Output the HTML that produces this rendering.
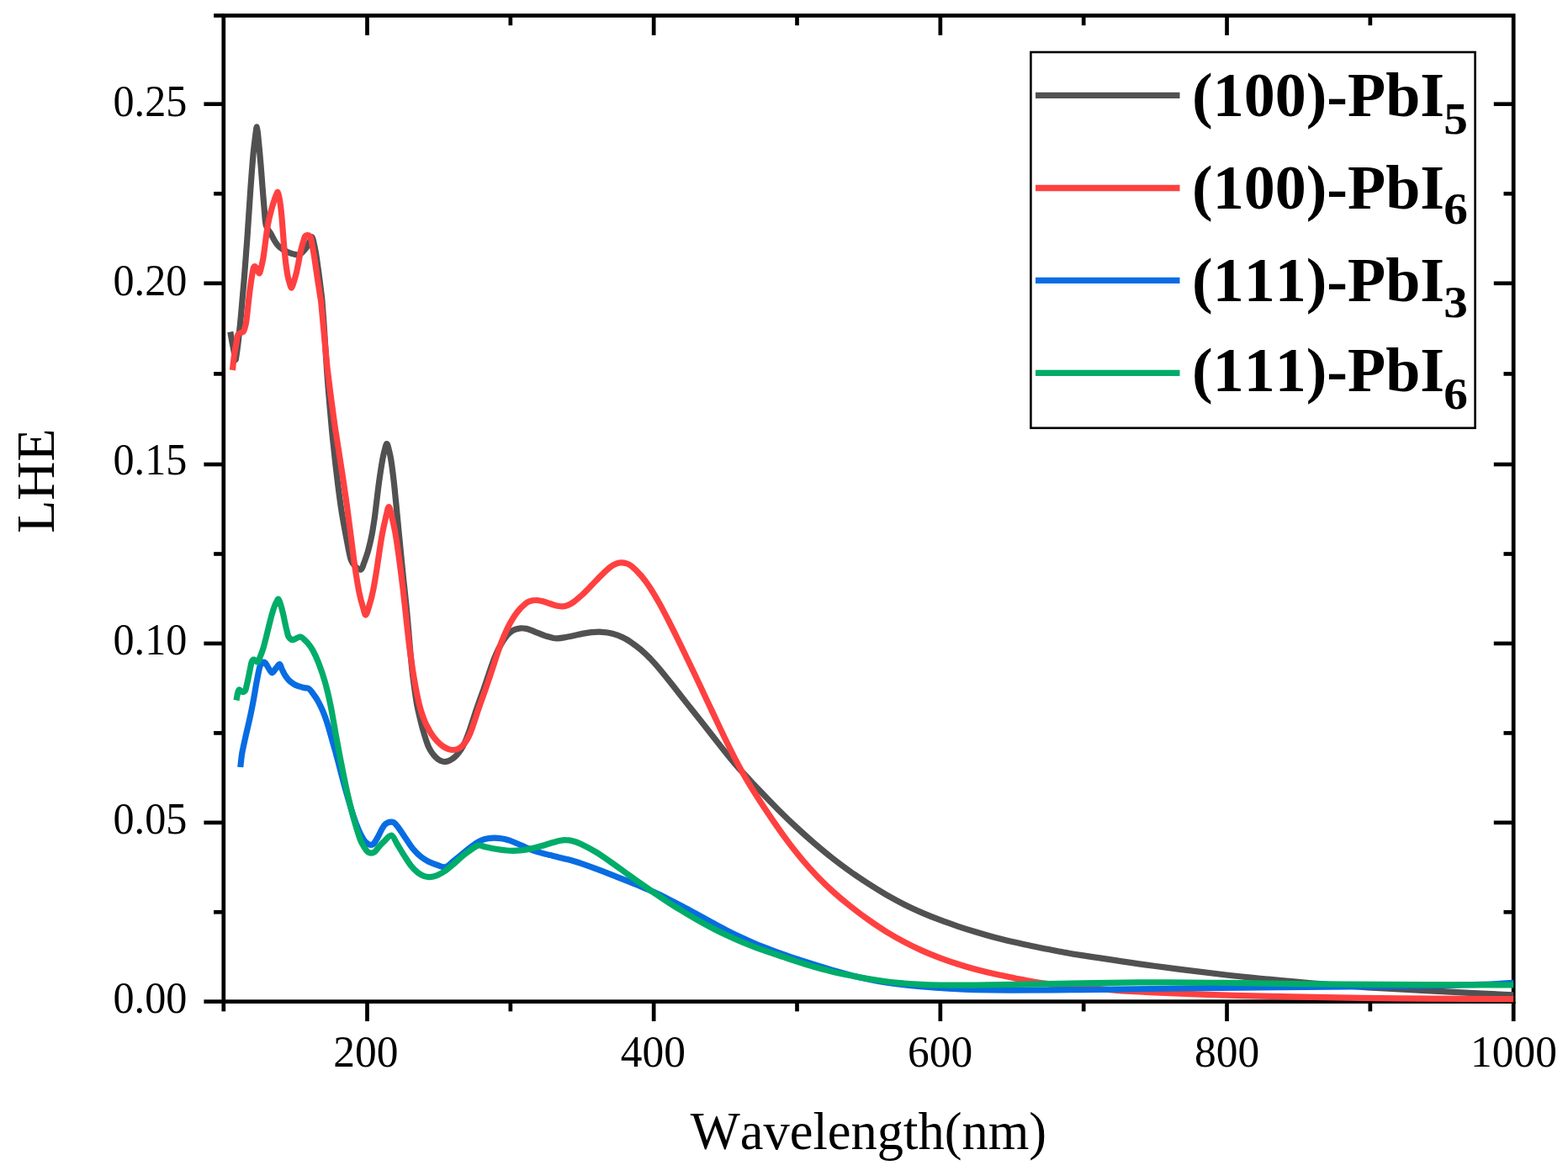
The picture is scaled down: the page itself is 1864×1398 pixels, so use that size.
<!DOCTYPE html>
<html lang="en"><head><meta charset="utf-8"><title>LHE vs Wavelength</title>
<style>html,body{margin:0;padding:0;background:#fff;}body{width:1864px;height:1398px;overflow:hidden;}svg{display:block;}text{font-family:"Liberation Serif","Times New Roman",serif;fill:#000;font-kerning:none;}.tk{font-size:52px;}.ttl{font-size:63px;}.lg{font-size:74px;font-weight:bold;}.sub{font-size:54px;font-weight:bold;}.ax{stroke:#000;stroke-width:4.7;fill:none;stroke-linecap:butt;}.cv{fill:none;stroke-width:7.2;stroke-linejoin:round;stroke-linecap:butt;}</style></head><body>
<svg width="1864" height="1398" viewBox="0 0 1864 1398">
<rect x="0" y="0" width="1864" height="1398" fill="#fff"/>
<defs><clipPath id="pc"><rect x="265.80" y="18.50" width="1533.40" height="1174.50"/></clipPath></defs>
<g class="ax">
<rect x="265.80" y="18.50" width="1533.40" height="1172.15"/>
<line x1="436.50" y1="1190.65" x2="436.50" y2="1214.05"/>
<line x1="436.50" y1="18.50" x2="436.50" y2="41.90"/>
<line x1="777.17" y1="1190.65" x2="777.17" y2="1214.05"/>
<line x1="777.17" y1="18.50" x2="777.17" y2="41.90"/>
<line x1="1117.85" y1="1190.65" x2="1117.85" y2="1214.05"/>
<line x1="1117.85" y1="18.50" x2="1117.85" y2="41.90"/>
<line x1="1458.53" y1="1190.65" x2="1458.53" y2="1214.05"/>
<line x1="1458.53" y1="18.50" x2="1458.53" y2="41.90"/>
<line x1="1799.20" y1="1190.65" x2="1799.20" y2="1214.05"/>
<line x1="265.80" y1="1190.65" x2="265.80" y2="1202.35"/>
<line x1="606.84" y1="1190.65" x2="606.84" y2="1202.35"/>
<line x1="606.84" y1="18.50" x2="606.84" y2="30.20"/>
<line x1="947.51" y1="1190.65" x2="947.51" y2="1202.35"/>
<line x1="947.51" y1="18.50" x2="947.51" y2="30.20"/>
<line x1="1288.19" y1="1190.65" x2="1288.19" y2="1202.35"/>
<line x1="1288.19" y1="18.50" x2="1288.19" y2="30.20"/>
<line x1="1628.86" y1="1190.65" x2="1628.86" y2="1202.35"/>
<line x1="1628.86" y1="18.50" x2="1628.86" y2="30.20"/>
<line x1="265.80" y1="1190.65" x2="242.40" y2="1190.65"/>
<line x1="265.80" y1="1084.28" x2="254.10" y2="1084.28"/>
<line x1="1799.20" y1="1084.28" x2="1787.50" y2="1084.28"/>
<line x1="265.80" y1="977.90" x2="242.40" y2="977.90"/>
<line x1="1799.20" y1="977.90" x2="1775.80" y2="977.90"/>
<line x1="265.80" y1="871.42" x2="254.10" y2="871.42"/>
<line x1="1799.20" y1="871.42" x2="1787.50" y2="871.42"/>
<line x1="265.80" y1="764.95" x2="242.40" y2="764.95"/>
<line x1="1799.20" y1="764.95" x2="1775.80" y2="764.95"/>
<line x1="265.80" y1="658.50" x2="254.10" y2="658.50"/>
<line x1="1799.20" y1="658.50" x2="1787.50" y2="658.50"/>
<line x1="265.80" y1="552.05" x2="242.40" y2="552.05"/>
<line x1="1799.20" y1="552.05" x2="1775.80" y2="552.05"/>
<line x1="265.80" y1="444.42" x2="254.10" y2="444.42"/>
<line x1="1799.20" y1="444.42" x2="1787.50" y2="444.42"/>
<line x1="265.80" y1="336.80" x2="242.40" y2="336.80"/>
<line x1="1799.20" y1="336.80" x2="1775.80" y2="336.80"/>
<line x1="265.80" y1="230.25" x2="254.10" y2="230.25"/>
<line x1="1799.20" y1="230.25" x2="1787.50" y2="230.25"/>
<line x1="265.80" y1="123.70" x2="242.40" y2="123.70"/>
<line x1="1799.20" y1="123.70" x2="1775.80" y2="123.70"/>
<line x1="265.80" y1="18.50" x2="254.10" y2="18.50"/>
</g>
<text class="tk" text-anchor="end" transform="translate(222.30,1204.40) scale(0.9650,0.9950)">0.00</text>
<text class="tk" text-anchor="end" transform="translate(222.30,991.00) scale(0.9650,0.9950)">0.05</text>
<text class="tk" text-anchor="end" transform="translate(222.30,777.60) scale(0.9650,0.9950)">0.10</text>
<text class="tk" text-anchor="end" transform="translate(222.30,564.20) scale(0.9650,0.9950)">0.15</text>
<text class="tk" text-anchor="end" transform="translate(222.30,351.10) scale(0.9650,0.9950)">0.20</text>
<text class="tk" text-anchor="end" transform="translate(222.30,138.00) scale(0.9650,0.9950)">0.25</text>
<text class="tk" text-anchor="middle" transform="translate(434.90,1267.60) scale(0.9900,0.9950)">200</text>
<text class="tk" text-anchor="middle" transform="translate(776.27,1267.60) scale(0.9900,0.9950)">400</text>
<text class="tk" text-anchor="middle" transform="translate(1117.65,1267.60) scale(0.9900,0.9950)">600</text>
<text class="tk" text-anchor="middle" transform="translate(1458.53,1267.60) scale(0.9900,0.9950)">800</text>
<text class="tk" text-anchor="middle" transform="translate(1799.40,1267.60) scale(0.9900,0.9950)">1000</text>
<text class="ttl" text-anchor="start" transform="translate(820.80,1365.50) scale(0.9920,1.0000)">Wavelength(nm)</text>
<text class="ttl" text-anchor="start" transform="translate(64.40,633.70) rotate(-90) scale(1.0136,0.9988)">LHE</text>
<g clip-path="url(#pc)">
<path class="cv" stroke="#515151" d="M273.8 394.5C274.2 396.7 275.4 403.6 276.2 408.0C277.1 412.4 278.1 417.7 278.7 421.0C279.3 424.2 279.7 427.0 280.0 427.5C280.3 428.0 280.3 426.8 280.8 423.9C281.3 421.0 282.0 416.4 282.8 409.9C283.6 403.5 284.6 394.0 285.5 385.0C286.4 376.0 287.4 364.4 288.1 356.0C288.9 347.6 289.4 341.2 290.0 334.4C290.5 327.6 291.0 321.7 291.5 315.1C292.0 308.5 292.6 301.0 293.0 295.0C293.5 289.0 293.6 287.2 294.2 279.0C294.7 270.8 295.7 256.3 296.4 245.9C297.1 235.6 297.6 227.1 298.4 216.9C299.1 206.7 300.1 193.8 300.9 184.7C301.8 175.6 302.8 167.9 303.5 162.3C304.3 156.7 304.8 150.5 305.4 151.0C306.0 151.5 306.5 158.0 307.2 165.5C308.0 173.0 309.2 186.6 310.0 196.0C310.8 205.4 311.3 213.2 312.0 222.0C312.7 230.8 313.5 241.3 314.2 248.9C315.0 256.6 315.0 263.1 316.3 268.0C317.6 272.9 320.5 275.3 322.2 278.3C323.9 281.3 325.0 283.7 326.3 285.9C327.7 288.1 328.7 289.9 330.3 291.6C331.8 293.3 333.5 294.7 335.5 296.0C337.4 297.4 340.2 298.7 342.0 299.6C343.7 300.5 344.8 300.8 346.1 301.3C347.4 301.7 348.3 302.0 349.9 302.3C351.4 302.6 353.9 303.4 355.5 303.0C357.1 302.6 358.2 301.1 359.5 299.9C360.8 298.7 362.1 297.2 363.4 295.6C364.6 293.9 365.7 291.7 366.7 289.9C367.7 288.1 368.7 286.0 369.4 284.7C370.1 283.3 370.5 281.6 371.0 281.8C371.5 282.0 371.7 282.9 372.4 285.7C373.0 288.6 374.3 294.0 375.2 299.1C376.1 304.1 376.9 310.1 377.7 316.0C378.6 321.9 379.4 328.4 380.2 334.4C380.9 340.4 381.8 347.4 382.4 352.0C382.9 356.6 382.8 355.0 383.3 362.0C383.9 369.0 384.9 383.3 385.6 394.0C386.3 404.8 387.0 417.3 387.7 426.6C388.3 435.9 388.7 442.9 389.3 450.0C389.8 457.0 390.0 460.0 390.8 469.0C391.6 478.1 393.1 495.9 393.9 504.4C394.7 512.9 394.6 512.6 395.4 520.0C396.2 527.5 397.3 538.2 398.5 548.9C399.8 559.7 401.4 574.2 402.8 584.4C404.1 594.6 404.9 600.5 406.4 609.9C408.0 619.3 410.2 631.7 412.0 640.9C413.8 650.1 415.3 659.6 417.1 665.1C418.9 670.6 421.0 672.0 423.0 674.0C425.0 676.0 427.6 677.6 429.2 676.9C430.8 676.2 431.2 673.3 432.6 669.6C433.9 665.9 436.0 660.5 437.6 654.7C439.2 649.0 440.9 641.5 442.2 635.0C443.4 628.5 444.3 622.2 445.3 615.7C446.2 609.3 446.8 603.8 447.7 596.4C448.6 589.0 449.6 580.0 450.8 571.5C452.0 563.1 453.6 552.5 454.8 545.9C456.0 539.4 457.1 535.4 458.0 532.3C458.8 529.2 459.2 527.5 459.8 527.5C460.4 527.5 460.9 529.3 461.7 532.3C462.5 535.4 463.7 539.4 464.7 545.9C465.8 552.5 467.1 563.0 468.1 571.5C469.1 580.0 469.9 589.6 470.7 597.0C471.4 604.4 471.8 608.4 472.5 615.8C473.2 623.2 474.1 632.9 475.0 641.5C475.8 650.1 476.7 659.2 477.5 667.3C478.3 675.4 479.2 683.9 479.8 690.0C480.4 696.1 480.7 697.7 481.3 704.0C482.0 710.4 483.0 720.0 483.8 728.0C484.5 736.0 485.2 744.5 485.9 752.0C486.5 759.5 487.0 765.7 487.6 772.9C488.3 780.0 489.2 789.6 489.7 795.0C490.3 800.3 490.1 799.1 490.9 805.0C491.7 811.0 493.4 824.2 494.5 830.6C495.5 837.1 495.6 838.0 496.9 843.7C498.2 849.4 500.3 858.4 502.0 864.9C503.8 871.4 506.0 878.4 507.5 882.7C508.9 887.0 509.7 888.3 510.9 890.6C512.2 893.0 513.6 895.1 515.0 896.9C516.5 898.7 517.9 900.3 519.4 901.5C520.9 902.8 522.4 903.8 523.9 904.4C525.3 905.1 526.6 905.4 528.0 905.5C529.5 905.5 531.0 905.3 532.7 904.8C534.4 904.2 536.2 903.2 538.0 901.9C539.8 900.7 541.7 899.0 543.4 897.1C545.2 895.2 546.8 892.9 548.3 890.6C549.8 888.2 551.0 886.0 552.4 883.0C553.8 880.0 555.2 876.4 556.6 872.6C558.1 868.7 559.4 864.4 560.9 859.9C562.4 855.5 564.0 850.4 565.5 845.9C567.0 841.4 568.5 837.3 570.0 833.0C571.5 828.6 573.0 824.5 574.7 819.9C576.3 815.2 578.1 810.0 579.8 805.0C581.5 800.0 583.2 794.5 584.9 790.0C586.5 785.4 587.8 781.9 589.7 777.7C591.5 773.6 594.2 768.4 596.2 764.9C598.2 761.4 600.0 759.0 601.6 756.8C603.3 754.6 604.5 753.3 606.2 751.9C607.8 750.6 609.4 749.4 611.5 748.6C613.6 747.7 616.6 747.0 619.0 746.8C621.4 746.6 623.6 747.0 625.8 747.4C627.9 747.8 629.6 748.5 632.0 749.4C634.3 750.3 636.9 751.5 639.9 752.6C642.8 753.8 646.6 755.3 649.6 756.3C652.7 757.2 655.7 758.0 657.9 758.5C660.2 758.9 661.1 758.9 663.2 758.8C665.4 758.7 667.6 758.4 670.7 757.9C673.7 757.4 677.9 756.5 681.5 755.7C685.1 755.0 688.6 754.1 692.2 753.4C695.8 752.8 699.1 752.1 703.0 751.7C706.9 751.3 711.5 751.0 715.7 751.3C720.0 751.5 724.0 752.1 728.2 753.3C732.4 754.4 736.9 756.2 740.8 758.1C744.7 759.9 747.9 761.9 751.4 764.4C755.0 766.8 758.7 769.7 762.3 772.8C765.9 775.9 769.4 779.3 773.0 782.9C776.5 786.6 779.5 789.8 783.6 794.7C787.7 799.6 793.4 806.7 797.8 812.3C802.2 817.8 805.9 822.6 810.1 827.9C814.3 833.3 818.7 838.9 823.0 844.3C827.3 849.8 831.6 855.2 835.9 860.6C840.2 866.0 844.4 871.4 848.6 876.7C852.8 882.0 856.8 887.3 861.0 892.5C865.2 897.8 869.9 903.6 873.8 908.1C877.6 912.6 880.6 915.9 884.0 919.5C887.3 923.2 890.8 926.8 893.9 930.1C897.1 933.5 897.9 934.5 903.1 939.8C908.2 945.2 917.6 955.0 924.8 962.2C932.0 969.4 939.2 976.4 946.3 983.0C953.4 989.6 960.4 995.9 967.5 1002.0C974.7 1008.2 982.1 1014.3 989.3 1020.0C996.5 1025.6 1003.5 1030.9 1010.6 1035.9C1017.7 1041.0 1024.7 1045.7 1031.9 1050.3C1039.0 1054.9 1046.3 1059.4 1053.5 1063.6C1060.7 1067.7 1067.9 1071.6 1075.0 1075.2C1082.1 1078.8 1089.2 1082.0 1096.3 1085.1C1103.4 1088.2 1110.5 1091.0 1117.7 1093.7C1124.8 1096.4 1132.0 1098.9 1139.1 1101.3C1146.3 1103.7 1153.3 1105.9 1160.4 1108.0C1167.6 1110.2 1174.9 1112.3 1182.0 1114.2C1189.2 1116.1 1196.3 1117.8 1203.4 1119.5C1210.5 1121.2 1217.7 1122.7 1224.8 1124.2C1232.0 1125.7 1240.4 1127.4 1246.3 1128.5C1252.2 1129.7 1253.4 1130.0 1260.0 1131.2C1266.6 1132.4 1267.3 1132.8 1285.9 1135.6C1304.6 1138.5 1343.2 1144.4 1371.8 1148.3C1400.5 1152.1 1435.0 1156.3 1457.7 1159.0C1480.3 1161.6 1496.1 1163.0 1508.0 1164.2C1519.9 1165.4 1521.0 1165.4 1529.0 1166.1C1537.0 1166.9 1546.7 1167.7 1556.0 1168.5C1565.3 1169.3 1574.8 1170.1 1585.0 1170.9C1595.2 1171.6 1606.2 1172.4 1617.0 1173.2C1627.8 1173.9 1637.0 1174.5 1650.0 1175.2C1663.0 1176.0 1678.8 1176.8 1695.0 1177.7C1711.2 1178.5 1731.5 1179.5 1747.0 1180.3C1762.5 1181.1 1778.8 1181.9 1788.0 1182.3C1797.2 1182.8 1799.7 1182.9 1802.0 1183.0"/>
<path class="cv" stroke="#ff4040" d="M276.5 440.0C276.7 438.3 277.1 433.2 277.5 430.1C277.9 426.9 278.0 425.1 278.7 421.0C279.3 416.8 280.6 409.2 281.3 405.3C282.0 401.3 281.7 399.3 283.0 397.5C284.3 395.7 287.7 395.7 289.0 394.4C290.3 393.1 290.5 391.4 291.1 389.7C291.6 387.9 292.0 386.9 292.5 384.0C293.0 381.0 293.5 376.0 294.0 372.0C294.4 368.0 294.7 365.2 295.3 360.0C295.9 354.8 296.8 346.7 297.6 340.8C298.4 335.0 299.4 328.8 300.0 325.1C300.7 321.4 300.8 320.2 301.3 318.8C301.8 317.4 302.4 316.4 303.2 316.8C304.0 317.2 305.0 319.6 305.8 321.0C306.7 322.4 307.6 325.2 308.3 325.0C309.0 324.8 309.4 322.2 310.0 319.8C310.6 317.5 311.5 313.9 312.1 311.0C312.8 308.0 313.1 306.0 313.6 302.2C314.2 298.3 314.8 293.0 315.5 288.0C316.1 282.9 317.0 276.3 317.7 271.8C318.4 267.3 318.9 264.6 319.7 261.0C320.5 257.5 321.4 253.8 322.4 250.2C323.3 246.7 324.5 242.6 325.5 239.6C326.5 236.5 327.6 233.6 328.4 231.7C329.1 229.9 329.5 228.2 330.0 228.3C330.5 228.4 330.8 229.9 331.3 232.2C331.9 234.5 332.6 237.6 333.2 242.1C333.9 246.5 334.3 250.9 335.0 258.8C335.7 266.7 336.8 282.0 337.4 289.3C338.0 296.5 338.1 297.9 338.6 302.2C339.0 306.5 339.5 310.8 340.0 315.1C340.6 319.4 341.3 324.2 342.0 327.9C342.8 331.6 343.7 334.9 344.5 337.2C345.3 339.6 345.7 342.5 346.6 342.0C347.5 341.5 348.7 337.0 349.6 334.1C350.5 331.2 351.5 327.8 352.3 324.7C353.0 321.5 353.6 318.3 354.3 315.1C354.9 311.9 355.5 308.6 356.1 305.4C356.8 302.2 357.4 299.0 358.1 295.9C358.9 292.7 360.0 288.8 360.8 286.3C361.5 283.8 361.9 282.0 362.7 280.9C363.5 279.8 364.5 279.4 365.6 279.6C366.7 279.8 368.2 280.0 369.2 282.2C370.2 284.4 370.6 288.7 371.3 292.6C372.1 296.4 372.9 301.1 373.6 305.4C374.3 309.7 374.9 314.0 375.5 318.3C376.2 322.6 376.8 326.9 377.4 331.2C378.1 335.5 378.7 339.7 379.4 344.0C380.1 348.3 380.9 353.9 381.4 356.9C381.8 359.9 381.4 356.0 382.0 362.2C382.6 368.5 384.0 383.7 385.0 394.4C386.0 405.1 387.3 419.0 388.0 426.6C388.8 434.2 388.6 432.9 389.4 440.0C390.3 447.0 391.6 458.2 393.0 469.0C394.4 479.7 396.6 495.8 397.8 504.4C399.0 512.9 399.0 512.6 400.2 520.0C401.3 527.5 403.1 538.3 404.7 549.1C406.4 559.8 408.6 574.2 410.0 584.3C411.5 594.5 412.4 600.7 413.6 610.1C414.9 619.5 416.2 630.5 417.6 641.0C418.9 651.5 420.3 662.7 421.8 673.2C423.4 683.6 425.2 695.6 426.9 703.9C428.5 712.2 430.4 718.5 431.8 723.0C433.1 727.5 433.8 731.5 435.0 731.0C436.2 730.5 437.7 724.3 439.0 719.8C440.4 715.3 441.9 709.8 443.1 704.0C444.4 698.2 445.6 690.9 446.6 684.8C447.7 678.7 448.5 672.9 449.3 667.3C450.2 661.7 450.8 656.8 451.7 651.2C452.6 645.7 453.3 640.4 454.5 634.1C455.8 627.7 457.8 618.6 459.0 613.3C460.3 608.1 461.1 602.7 462.2 602.6C463.3 602.5 464.1 607.4 465.4 612.4C466.6 617.5 468.5 625.6 469.8 633.0C471.2 640.4 472.3 649.0 473.5 657.0C474.6 665.0 475.7 673.3 476.7 681.2C477.7 689.1 478.6 696.3 479.5 704.1C480.4 712.0 481.3 720.3 482.2 728.3C483.0 736.3 483.9 744.8 484.8 752.4C485.6 760.0 486.2 765.2 487.4 773.9C488.6 782.7 490.4 795.6 492.0 805.1C493.6 814.5 495.4 824.1 496.8 830.6C498.1 837.0 499.0 839.9 500.1 843.6C501.2 847.4 502.0 849.8 503.2 852.9C504.3 856.0 505.4 858.8 507.1 862.2C508.8 865.5 511.1 869.8 513.2 873.0C515.4 876.2 517.7 879.0 519.8 881.3C522.0 883.6 524.1 885.4 526.3 887.0C528.4 888.5 530.6 889.6 532.6 890.4C534.7 891.1 536.6 891.5 538.6 891.5C540.6 891.4 542.6 891.0 544.5 890.2C546.4 889.3 548.2 888.2 550.0 886.3C551.7 884.5 553.7 881.8 555.3 879.1C556.9 876.4 558.2 873.5 559.5 870.3C560.8 867.1 561.8 863.9 563.2 859.9C564.6 855.8 566.3 850.4 567.8 845.9C569.3 841.4 570.8 837.3 572.3 833.0C573.8 828.6 575.3 824.5 577.0 819.9C578.6 815.2 580.4 810.0 582.1 805.0C583.8 800.0 585.5 794.5 587.1 789.9C588.6 785.3 589.7 781.6 591.2 777.4C592.6 773.2 594.1 768.8 595.7 764.5C597.4 760.2 599.0 756.0 601.0 751.7C603.0 747.4 605.1 743.0 607.5 738.9C609.9 734.7 612.6 730.4 615.5 726.9C618.3 723.4 622.1 719.8 624.5 717.8C627.0 715.7 628.3 715.3 630.3 714.6C632.3 713.8 634.5 713.5 636.6 713.5C638.7 713.4 640.7 713.7 642.8 714.2C645.0 714.6 647.0 715.3 649.5 716.1C652.0 716.9 655.5 718.2 657.9 719.0C660.3 719.7 662.2 720.2 664.1 720.5C666.0 720.8 667.5 721.0 669.3 720.8C671.0 720.7 672.7 720.4 674.7 719.6C676.7 718.8 678.4 718.2 681.4 716.0C684.4 713.8 688.9 709.9 692.6 706.6C696.2 703.2 699.6 699.6 703.3 695.8C707.0 692.0 711.2 687.4 714.9 683.8C718.7 680.1 722.9 676.2 725.8 673.9C728.6 671.7 729.9 671.1 731.9 670.3C734.0 669.5 735.9 669.0 738.1 668.9C740.2 668.8 742.6 669.1 744.7 669.8C746.8 670.4 747.8 670.6 750.7 673.0C753.6 675.3 758.2 679.8 761.9 684.0C765.5 688.2 768.9 692.8 772.5 698.3C776.1 703.8 779.8 710.2 783.6 716.8C787.3 723.4 791.2 731.0 794.8 738.0C798.4 745.0 801.9 752.0 805.3 759.0C808.8 766.0 811.2 771.1 815.5 780.0C819.8 788.8 825.9 801.6 830.9 812.3C836.0 823.1 841.0 833.7 846.0 844.4C851.1 855.1 856.0 865.9 861.2 876.5C866.4 887.2 872.5 899.4 877.1 908.2C881.7 917.0 884.6 922.0 888.9 929.2C893.2 936.4 897.6 943.3 902.9 951.5C908.2 959.6 914.9 969.7 920.7 978.1C926.5 986.5 932.2 994.5 937.9 1002.1C943.6 1009.6 949.3 1016.7 955.0 1023.5C960.7 1030.2 966.4 1036.5 972.2 1042.5C977.9 1048.4 983.1 1053.5 989.5 1059.2C995.9 1065.0 1003.5 1071.4 1010.6 1077.0C1017.7 1082.7 1025.0 1088.2 1032.2 1093.3C1039.3 1098.4 1046.3 1103.0 1053.4 1107.5C1060.6 1111.9 1068.0 1116.1 1075.2 1119.9C1082.3 1123.7 1089.3 1127.0 1096.3 1130.1C1103.4 1133.3 1110.5 1136.1 1117.7 1138.8C1124.8 1141.5 1132.0 1144.0 1139.2 1146.3C1146.3 1148.6 1153.4 1150.7 1160.6 1152.6C1167.7 1154.5 1174.3 1156.1 1182.1 1157.8C1189.8 1159.5 1200.3 1161.5 1206.8 1162.9C1213.4 1164.2 1216.3 1164.8 1221.2 1165.7C1226.0 1166.5 1228.8 1167.2 1236.0 1168.2C1243.1 1169.2 1249.3 1170.3 1264.2 1171.8C1279.0 1173.2 1307.9 1175.8 1325.0 1177.1C1342.2 1178.4 1348.5 1178.7 1367.0 1179.6C1385.5 1180.4 1413.8 1181.6 1436.0 1182.3C1458.2 1183.1 1469.7 1183.5 1500.0 1184.1C1530.4 1184.8 1584.7 1185.8 1618.0 1186.3C1651.3 1186.8 1669.3 1186.9 1700.0 1187.2C1730.7 1187.4 1785.0 1187.6 1802.0 1187.7"/>
<path class="cv" stroke="#086ce2" d="M285.8 912.0C286.0 910.0 286.7 903.2 287.1 900.1C287.5 896.9 287.4 897.0 288.2 893.0C289.0 889.0 290.8 880.9 291.9 875.9C293.0 870.9 293.9 867.3 294.9 863.0C295.9 858.7 296.9 854.4 297.8 850.1C298.7 845.8 299.6 841.5 300.4 837.2C301.2 832.9 302.0 828.6 302.7 824.3C303.5 820.0 304.1 815.7 304.9 811.5C305.7 807.3 306.7 802.2 307.4 798.8C308.2 795.4 308.4 792.9 309.5 791.0C310.6 789.1 312.8 786.9 314.3 787.2C315.8 787.5 317.0 790.9 318.5 793.0C320.0 795.1 321.8 799.5 323.4 799.8C325.0 800.1 326.5 796.2 328.0 794.5C329.5 792.8 331.2 789.4 332.4 789.6C333.6 789.8 334.1 793.5 335.2 795.6C336.3 797.8 337.4 800.3 338.7 802.5C340.1 804.7 341.6 806.8 343.4 808.6C345.2 810.4 347.5 812.2 349.5 813.4C351.4 814.6 353.2 815.2 355.3 815.9C357.4 816.6 360.0 817.1 362.0 817.6C364.0 818.0 365.5 817.5 367.1 818.6C368.7 819.7 370.1 821.8 371.7 824.0C373.3 826.1 375.1 828.6 376.9 831.5C378.6 834.5 380.6 838.3 382.2 841.7C383.8 845.1 385.1 848.4 386.4 852.0C387.7 855.5 388.9 859.1 390.1 863.1C391.3 867.0 392.6 871.9 393.7 875.8C394.8 879.8 396.0 883.9 396.8 886.8C397.7 889.7 397.8 890.0 398.7 893.2C399.5 896.4 400.8 900.8 402.1 905.9C403.5 911.1 405.1 917.8 406.8 924.0C408.4 930.2 409.8 935.4 412.0 943.0C414.2 950.6 417.7 962.7 420.1 969.8C422.4 976.9 424.0 981.1 425.9 985.6C427.8 990.2 430.1 994.5 431.7 997.1C433.2 999.7 434.1 1000.4 435.1 1001.5C436.2 1002.5 437.1 1002.9 438.0 1003.4C439.0 1003.9 440.0 1004.5 441.0 1004.5C442.0 1004.5 443.1 1004.1 444.0 1003.3C444.9 1002.5 445.6 1001.0 446.5 999.6C447.4 998.2 447.5 998.0 449.3 994.9C451.1 991.7 454.4 983.4 457.3 980.5C460.2 977.6 464.1 976.6 466.9 977.3C469.7 978.0 471.5 981.3 474.0 984.5C476.5 987.6 479.3 992.2 482.0 996.2C484.8 1000.2 487.6 1004.8 490.5 1008.5C493.5 1012.1 496.8 1015.5 499.9 1018.1C503.1 1020.7 506.0 1022.6 509.4 1024.3C512.8 1026.0 516.9 1027.5 520.3 1028.5C523.7 1029.6 526.5 1031.5 529.7 1030.7C532.9 1029.9 535.2 1026.8 539.2 1023.5C543.3 1020.3 549.7 1014.9 554.1 1011.4C558.5 1007.8 562.6 1004.6 565.8 1002.5C569.0 1000.3 570.8 999.5 573.2 998.5C575.6 997.6 577.7 997.1 580.1 996.7C582.5 996.3 584.9 996.1 587.5 996.1C590.1 996.1 593.1 996.3 595.9 996.8C598.7 997.2 601.3 997.8 604.4 998.7C607.4 999.7 610.6 1001.0 614.1 1002.5C617.6 1003.9 622.0 1006.1 625.3 1007.5C628.7 1008.9 631.2 1010.0 634.2 1011.1C637.2 1012.2 640.1 1013.0 643.4 1013.9C646.7 1014.9 650.6 1015.8 654.0 1016.6C657.3 1017.4 660.4 1018.1 663.5 1018.9C666.7 1019.7 669.8 1020.4 672.9 1021.2C676.0 1022.0 679.2 1022.8 682.3 1023.7C685.4 1024.6 687.0 1025.1 691.4 1026.6C695.8 1028.1 703.0 1030.7 708.8 1032.9C714.5 1035.0 720.0 1037.1 725.7 1039.3C731.4 1041.5 737.1 1043.7 742.9 1046.1C748.7 1048.4 754.7 1050.8 760.4 1053.2C766.0 1055.6 771.3 1057.8 777.0 1060.4C782.6 1062.9 788.5 1065.7 794.3 1068.6C800.1 1071.5 805.9 1074.6 811.7 1077.7C817.4 1080.7 823.1 1083.9 828.8 1087.0C834.5 1090.1 840.3 1093.3 846.0 1096.4C851.8 1099.5 857.6 1102.7 863.3 1105.6C869.1 1108.6 874.8 1111.4 880.5 1114.1C886.2 1116.8 891.9 1119.4 897.7 1121.8C903.4 1124.2 909.2 1126.4 914.9 1128.6C920.5 1130.8 926.4 1132.9 931.6 1134.7C936.8 1136.6 936.5 1136.7 946.1 1139.8C955.7 1142.9 976.8 1149.6 989.2 1153.2C1001.5 1156.9 1011.7 1159.3 1020.1 1161.4C1028.6 1163.4 1034.2 1164.4 1040.0 1165.6C1045.9 1166.7 1049.7 1167.3 1055.0 1168.1C1060.4 1168.9 1065.5 1169.6 1072.0 1170.3C1078.5 1171.1 1084.7 1171.8 1094.0 1172.6C1103.4 1173.4 1117.0 1174.5 1128.0 1175.2C1139.1 1175.8 1148.4 1176.3 1160.4 1176.7C1172.4 1177.0 1179.4 1177.2 1200.0 1177.2C1220.6 1177.2 1255.7 1176.9 1284.0 1176.6C1312.3 1176.3 1342.0 1175.8 1370.0 1175.5C1398.0 1175.1 1427.0 1174.7 1452.0 1174.4C1477.0 1174.1 1479.7 1174.1 1520.0 1173.7C1560.3 1173.2 1654.0 1172.4 1694.0 1171.8C1734.0 1171.3 1745.1 1170.8 1760.0 1170.4C1774.8 1170.0 1776.0 1169.8 1783.0 1169.4C1790.0 1169.1 1798.8 1168.5 1802.0 1168.3"/>
<path class="cv" stroke="#00ac69" d="M281.0 832.5C281.2 831.5 281.6 828.3 282.1 826.3C282.6 824.2 283.0 820.6 284.0 820.0C285.0 819.4 286.8 822.3 288.0 822.5C289.2 822.7 290.6 822.3 291.5 821.0C292.4 819.7 292.6 817.4 293.2 814.9C293.8 812.4 294.5 809.3 295.2 805.9C295.9 802.6 296.7 798.3 297.4 795.1C298.1 791.8 298.6 788.3 299.3 786.5C300.0 784.7 300.8 783.9 301.9 784.0C303.0 784.1 304.9 787.7 306.2 787.0C307.5 786.3 308.6 782.3 309.7 779.7C310.8 777.1 311.7 774.6 312.7 771.4C313.7 768.2 314.7 764.0 315.7 760.4C316.6 756.9 317.4 753.5 318.2 750.1C319.1 746.7 319.8 743.4 320.8 739.8C321.7 736.2 322.7 731.9 323.7 728.7C324.6 725.4 325.6 722.5 326.5 720.2C327.4 718.0 328.2 716.5 329.0 715.2C329.8 713.9 330.3 711.7 331.1 712.3C331.9 712.9 332.7 715.9 333.6 718.6C334.4 721.3 335.5 725.2 336.3 728.7C337.2 732.2 337.9 736.2 338.7 739.8C339.4 743.3 340.3 747.1 341.0 750.0C341.8 752.8 342.0 755.2 343.1 757.0C344.2 758.8 345.8 760.3 347.4 760.6C349.0 760.9 351.0 759.3 352.6 758.7C354.3 758.1 355.8 756.8 357.3 757.0C358.8 757.2 360.0 758.7 361.5 760.1C363.0 761.5 364.9 763.2 366.5 765.2C368.1 767.1 369.5 769.2 371.0 771.7C372.5 774.2 374.0 777.4 375.4 780.2C376.7 783.1 377.8 785.8 379.0 788.8C380.2 791.8 381.3 795.0 382.4 798.3C383.6 801.6 384.8 805.7 385.7 808.6C386.6 811.5 386.9 812.4 387.7 815.8C388.6 819.1 389.9 824.4 390.9 828.7C391.8 833.0 392.7 837.3 393.6 841.5C394.4 845.8 395.1 850.1 395.9 854.4C396.7 858.7 397.4 863.0 398.2 867.3C398.9 871.6 399.7 875.8 400.5 880.1C401.3 884.4 402.1 888.7 402.9 893.0C403.7 897.3 404.3 900.7 405.4 905.9C406.4 911.1 407.5 917.0 409.0 924.1C410.5 931.2 412.3 940.2 414.2 948.2C416.0 956.2 417.9 964.2 420.2 972.2C422.4 980.2 425.8 991.1 427.6 996.3C429.3 1001.5 429.6 1001.4 430.8 1003.5C431.9 1005.7 433.3 1007.6 434.3 1009.1C435.4 1010.7 436.1 1012.0 437.3 1012.8C438.5 1013.6 440.1 1014.1 441.4 1014.1C442.7 1014.1 444.1 1013.6 445.3 1012.8C446.5 1012.0 447.2 1010.6 448.3 1009.3C449.5 1007.9 450.7 1006.3 452.1 1004.8C453.4 1003.4 454.1 1002.5 456.3 1000.5C458.5 998.6 462.6 992.5 465.3 993.0C468.0 993.5 469.8 999.6 472.3 1003.7C474.8 1007.7 477.7 1012.8 480.5 1017.1C483.3 1021.4 486.2 1026.1 488.9 1029.5C491.6 1032.9 494.1 1035.3 496.7 1037.4C499.3 1039.4 502.1 1040.8 504.5 1041.7C506.9 1042.5 508.5 1042.7 511.1 1042.6C513.6 1042.4 516.7 1041.7 519.6 1040.6C522.5 1039.4 525.4 1037.9 528.7 1035.6C532.0 1033.4 535.7 1030.1 539.2 1027.2C542.6 1024.2 546.1 1020.8 549.4 1018.0C552.8 1015.2 556.3 1012.5 559.4 1010.4C562.6 1008.2 565.2 1005.7 568.3 1005.1C571.4 1004.5 574.4 1006.3 577.9 1007.0C581.4 1007.7 585.3 1008.6 589.3 1009.3C593.4 1010.0 597.9 1010.7 602.2 1011.0C606.4 1011.4 610.7 1011.4 615.0 1011.2C619.2 1011.0 623.6 1010.4 627.7 1009.7C631.9 1008.9 634.9 1008.1 639.8 1006.8C644.8 1005.4 652.9 1002.8 657.3 1001.5C661.7 1000.3 663.6 999.7 666.1 999.2C668.7 998.7 670.2 998.5 672.5 998.6C674.8 998.6 676.7 998.7 679.8 999.5C682.9 1000.3 686.2 1001.2 690.9 1003.4C695.6 1005.6 702.2 1009.1 708.0 1012.6C713.8 1016.1 719.9 1020.4 725.7 1024.5C731.6 1028.6 737.4 1032.9 743.2 1037.1C748.9 1041.2 754.5 1045.3 760.2 1049.3C765.9 1053.3 771.6 1057.3 777.4 1061.2C783.1 1065.1 789.1 1069.1 794.8 1072.9C800.5 1076.6 806.1 1080.0 811.8 1083.5C817.5 1087.0 823.2 1090.3 829.0 1093.6C834.7 1096.8 840.4 1100.0 846.2 1103.0C851.9 1106.0 857.6 1108.9 863.4 1111.6C869.1 1114.3 874.8 1116.9 880.5 1119.3C886.2 1121.7 891.9 1124.0 897.7 1126.1C903.4 1128.2 909.2 1130.1 914.8 1132.1C920.5 1134.0 926.3 1135.9 931.5 1137.7C936.7 1139.4 940.1 1140.7 946.1 1142.6C952.1 1144.5 960.3 1147.3 967.5 1149.3C974.6 1151.4 981.8 1153.2 988.9 1154.9C996.0 1156.6 1003.1 1158.1 1010.2 1159.6C1017.4 1161.0 1024.6 1162.3 1031.8 1163.5C1038.9 1164.7 1046.0 1165.8 1053.2 1166.7C1060.3 1167.6 1067.5 1168.3 1074.6 1169.0C1081.8 1169.6 1089.0 1170.1 1096.1 1170.4C1103.3 1170.8 1106.8 1170.9 1117.5 1171.0C1128.2 1171.2 1146.1 1171.2 1160.4 1171.1C1174.7 1171.0 1180.0 1170.8 1203.3 1170.4C1226.6 1170.0 1270.6 1169.0 1300.0 1168.6C1329.5 1168.1 1353.3 1167.9 1380.0 1167.9C1406.7 1167.8 1436.5 1168.2 1460.0 1168.4C1483.5 1168.6 1497.7 1169.0 1521.0 1169.3C1544.3 1169.6 1553.2 1169.9 1600.0 1170.2C1646.8 1170.4 1768.3 1170.9 1802.0 1171.0"/>
</g>
<rect x="1225.4" y="62" width="528.2" height="446.8" fill="#fff" stroke="#000" stroke-width="2.6"/>
<line x1="1231" y1="113.40" x2="1402.5" y2="113.40" stroke="#515151" stroke-width="7.3"/>
<text class="lg" text-anchor="start" transform="translate(1417.00,137.60)">(100)-PbI</text>
<text class="sub" text-anchor="start" transform="translate(1716.30,158.80) scale(1.0600,0.9750)">5</text>
<line x1="1231" y1="223.50" x2="1402.5" y2="223.50" stroke="#ff4040" stroke-width="7.3"/>
<text class="lg" text-anchor="start" transform="translate(1417.00,247.60)">(100)-PbI</text>
<text class="sub" text-anchor="start" transform="translate(1716.30,266.30) scale(1.0600,0.9750)">6</text>
<line x1="1231" y1="333.30" x2="1402.5" y2="333.30" stroke="#086ce2" stroke-width="7.3"/>
<text class="lg" text-anchor="start" transform="translate(1417.00,357.60)">(111)-PbI</text>
<text class="sub" text-anchor="start" transform="translate(1716.30,376.60) scale(1.0600,0.9750)">3</text>
<line x1="1231" y1="443.30" x2="1402.5" y2="443.30" stroke="#00ac69" stroke-width="7.3"/>
<text class="lg" text-anchor="start" transform="translate(1417.00,465.10)">(111)-PbI</text>
<text class="sub" text-anchor="start" transform="translate(1716.30,486.20) scale(1.0600,0.9750)">6</text>
</svg></body></html>
